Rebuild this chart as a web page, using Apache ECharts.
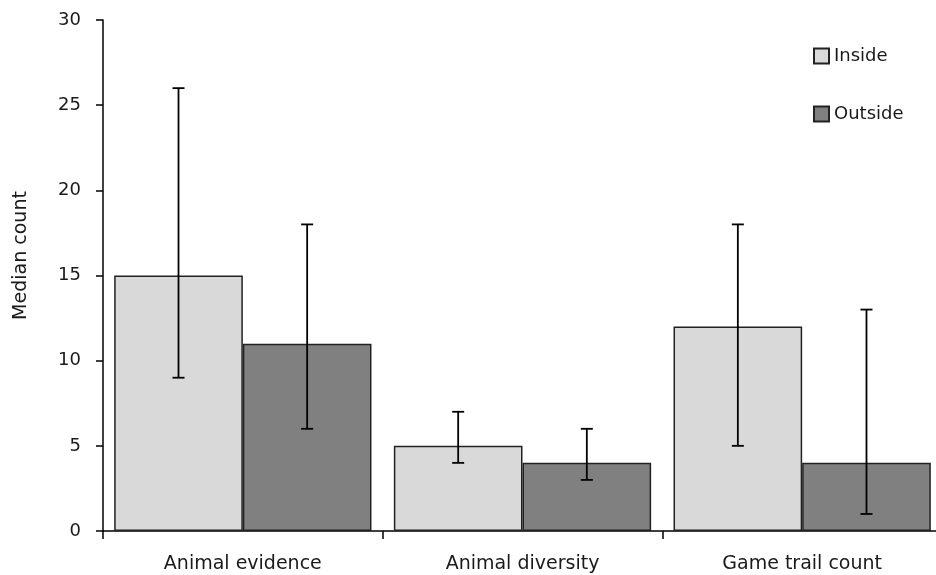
<!DOCTYPE html>
<html>
<head>
<meta charset="utf-8">
<script src="https://cdn.jsdelivr.net/npm/echarts@6/dist/echarts.min.js"></script>
<style>
  html, body { margin: 0; padding: 0; background: #fff; }
  #chart { width: 936px; height: 575px; }
</style>
</head>
<body>
<div id="chart"></div>
<script>
// 数据
var categories = ['Animal evidence', 'Animal diversity', 'Game trail count'];
var insideValues = [15, 5, 12];
var outsideValues = [11, 4, 4];
var insideLow = [9, 4, 5];
var insideHigh = [26, 7, 18];
var outsideLow = [6, 3, 1];
var outsideHigh = [18, 6, 13];
var yTicks = [0, 5, 10, 15, 20, 25, 30];

var textColor = '#1a1a1a';
var fontFamily = 'DejaVu Sans';

// 误差线
function errorItem(sign) {
  return function (params, api) {
    var i = api.value(0);
    var lo = api.coord([i, api.value(1)]);
    var hi = api.coord([i, api.value(2)]);
    var band = api.size([1, 0])[0];
    var cx = lo[0] + sign * band * 0.23;
    var half = 6;
    var st = { stroke: '#000', lineWidth: 1.8 };
    return {
      type: 'group',
      children: [
        { type: 'line', shape: { x1: cx, y1: hi[1], x2: cx, y2: lo[1] }, style: st },
        { type: 'line', shape: { x1: cx - half, y1: hi[1], x2: cx + half, y2: hi[1] }, style: st },
        { type: 'line', shape: { x1: cx - half, y1: lo[1], x2: cx + half, y2: lo[1] }, style: st }
      ]
    };
  };
}

function errData(lows, highs) {
  return lows.map(function (v, i) { return [i, v, highs[i]]; });
}

var myChart = echarts.init(document.getElementById('chart'));
var option = {
  animation: false,
  textStyle: { fontFamily: fontFamily },
  grid: { left: 103, width: 839, top: 20, bottom: 44, outerBoundsMode: 'none' },
  legend: {
    orient: 'vertical',
    left: 808,
    top: 42,
    itemWidth: 15,
    itemHeight: 15,
    itemGap: 40,
    icon: 'rect',
    data: ['Inside', 'Outside'],
    textStyle: { color: textColor, fontSize: 18, fontFamily: fontFamily }
  },
  xAxis: {
    type: 'category',
    data: categories,
    axisLine: { lineStyle: { color: '#000', width: 1.5 } },
    axisTick: { show: true, length: 8, lineStyle: { color: '#000', width: 1.5 } },
    axisLabel: { color: textColor, fontSize: 19, margin: 24, fontFamily: fontFamily }
  },
  yAxis: {
    type: 'value',
    min: yTicks[0],
    max: yTicks[yTicks.length - 1],
    interval: 5,
    name: 'Median count',
    nameLocation: 'middle',
    nameGap: 72,
    nameRotate: 90,
    nameTextStyle: { color: textColor, fontSize: 19, fontFamily: fontFamily, padding: [0, 0, 0, 40] },
    axisLine: { show: true, lineStyle: { color: '#000', width: 1.5 } },
    axisTick: { show: true, length: 7, lineStyle: { color: '#000', width: 1.5 } },
    axisLabel: { color: textColor, fontSize: 18, margin: 22, fontFamily: fontFamily },
    splitLine: { show: false }
  },
  series: [
    {
      name: 'Inside',
      type: 'bar',
      data: insideValues,
      barGap: '0%',
      barCategoryGap: '8%',
      itemStyle: { color: '#d9d9d9', borderColor: '#222', borderWidth: 1.5 }
    },
    {
      name: 'Outside',
      type: 'bar',
      data: outsideValues,
      itemStyle: { color: '#808080', borderColor: '#222', borderWidth: 1.5 }
    },
    {
      type: 'custom',
      renderItem: errorItem(-1),
      data: errData(insideLow, insideHigh),
      encode: { x: 0, y: [1, 2] },
      z: 10
    },
    {
      type: 'custom',
      renderItem: errorItem(1),
      data: errData(outsideLow, outsideHigh),
      encode: { x: 0, y: [1, 2] },
      z: 10
    }
  ]
};
myChart.setOption(option);
window.onresize = myChart.resize;
</script>
</body>
</html>
